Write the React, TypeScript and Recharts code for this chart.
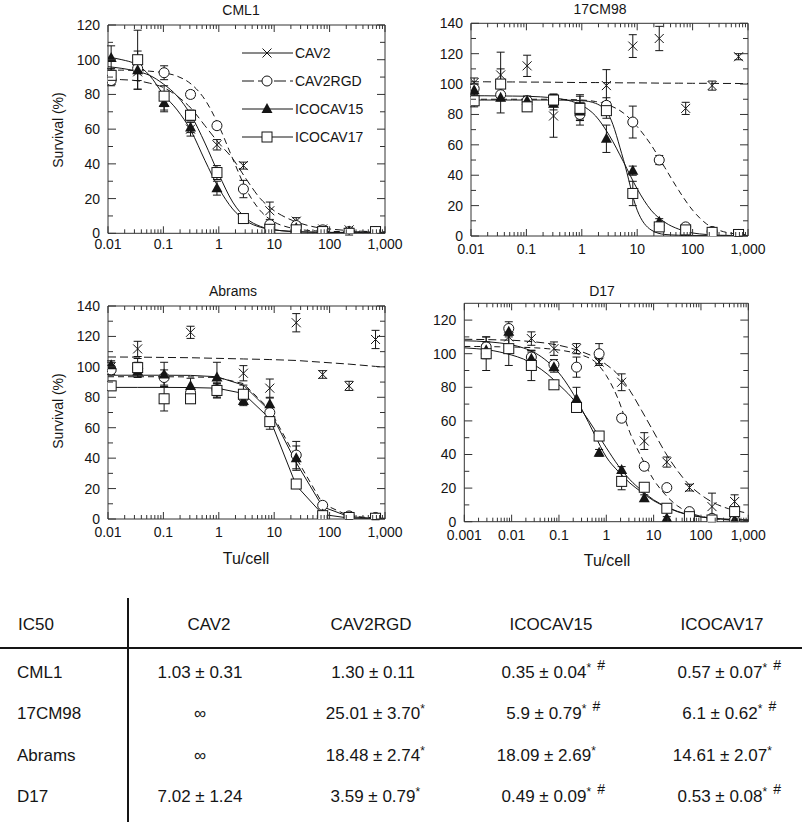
import React from 'react';
import { ComposedChart, Line, Scatter, ErrorBar, XAxis, YAxis, Legend, ReferenceLine } from 'recharts';

const FONT = '"Liberation Sans", Arial, Helvetica, sans-serif';
const INK = '#151515';
const FRAME = '#333';

const NAMES = ['CAV2', 'CAV2RGD', 'ICOCAV15', 'ICOCAV17'];
const FIT_DASH = ['8 4', '6 4', undefined, undefined];

// 3-fold dilution series, Tu/cell
const DOSES = [0.0114, 0.0343, 0.103, 0.309, 0.926, 2.78, 8.33, 25, 75, 225, 675];
const DOSES_D17 = [0.0029, 0.0087, 0.0261, 0.0783, 0.235, 0.705, 2.11, 6.34, 19, 57, 171, 514];

const FIT_X = [0.01, 0.0178, 0.0316, 0.0562, 0.1, 0.178, 0.316, 0.562, 1, 1.78, 3.16, 5.62, 10, 17.8, 31.6, 56.2, 100, 178, 316, 562, 1000];
const FIT_X_ABRAMS = [0.01, 0.0343, 0.103, 0.309, 0.926, 2.78, 8.33, 25, 75, 225, 675, 1000];
const FIT_X_D17 = [0.001, 0.00178, 0.00316, 0.00562, 0.01, 0.0178, 0.0316, 0.0562, 0.1, 0.178, 0.316, 0.562, 1, 1.78, 3.16, 5.62, 10, 17.8, 31.6, 56.2, 100, 178, 316, 562, 1000];

// ---- CML1
const CML1_CAV2 = [88, 93, 76, 60, 51, 39, 13, 7, 2.5, 2, 1];
const CML1_CAV2_ERR = [3, 5, 5, 4, 3, 2, 5, 2, 1, 1, 1];
const CML1_CAV2RGD = [88, 95, 92.5, 80, 62, 25.5, 5, 4.5, 2, 1, 1];
const CML1_CAV2RGD_ERR = [2, 3, 4, 2, 2, 5, 2, 2, 1, 1, 1];
const CML1_ICO15 = [101, 94, 75, 61, 26, 8, 2, 3, 1, 1, 0.5];
const CML1_ICO15_ERR = [7, 11, 5, 3, 4, 1, 1, 1, 1, 1, 0.5];
const CML1_ICO17 = [91, 100, 79, 68, 35, 8.5, 2.3, 2, 1, 0, 1];
const CML1_ICO17_ERR = [4, 17, 6, 3, 4, 1, 1, 1, 1, 1, 1];
const CML1_FIT_CAV2 = [89, 88.5, 88, 86.5, 84, 79, 72, 62, 52, 43, 31, 20, 13, 8.5, 5.5, 3.5, 2.5, 1.8, 1.3, 1, 0.8];
const CML1_FIT_CAV2RGD = [94, 94, 93.8, 93.4, 92.5, 90.5, 86, 77, 62, 43, 25, 13, 6.5, 3.5, 2, 1.4, 1.1, 1, 0.9, 0.8, 0.8];
const CML1_FIT_ICO15 = [101.5, 100, 97.5, 91, 80, 71, 59, 42, 26, 14, 7, 3.5, 2, 1.2, 0.8, 0.6, 0.5, 0.5, 0.5, 0.5, 0.5];
const CML1_FIT_ICO17 = [96, 95, 93.5, 91, 86, 79, 68, 52, 34, 18, 8.5, 4, 2, 1.2, 0.8, 0.6, 0.5, 0.5, 0.5, 0.5, 0.5];

// ---- 17CM98
const CM98_CAV2 = [101, 106, 112, 79, 85, 99, 125, 130, 84, 99, 118];
const CM98_CAV2_ERR = [3, 15, 7, 14, 8, 10.5, 7.5, 8, 4, 3, 2];
const CM98_CAV2RGD = [97, 93, 89, 89, 80, 86, 75, 50, 6, 3, 1];
const CM98_CAV2RGD_ERR = [3, 4, 3, 4, 7, 5, 10.5, 3, 2, 1, 1];
const CM98_ICO15 = [96, 91, 89, 87, 82, 64, 43, 9.4, 2, 2, 0.5];
const CM98_ICO15_ERR = [4, 10, 3, 4, 6, 9, 3, 2, 1, 1, 0.5];
const CM98_ICO17 = [89, 100, 85, 89.5, 84, 82.5, 28, 6, 4, 2.4, 1];
const CM98_ICO17_ERR = [4, 10, 3, 4, 8, 5, 8, 2, 1, 1, 1];
const CM98_FIT_CAV2 = [101.5, 101.5, 101.4, 101.4, 101.3, 101.3, 101.2, 101.1, 101, 101, 100.9, 100.8, 100.8, 100.7, 100.6, 100.6, 100.5, 100.5, 100.4, 100.4, 100.3];
const CM98_FIT_CAV2RGD = [90, 90, 90, 90, 90, 90, 90, 89.8, 89.5, 88.5, 86, 81, 72, 60, 45, 30, 17, 8, 3.5, 1.5, 0.8];
const CM98_FIT_ICO15 = [92.3, 92.3, 92.2, 92.1, 92, 91.6, 90.8, 89.3, 86, 79, 66, 49, 31, 17, 9, 4.5, 2, 1, 0.5, 0.3, 0.2];
const CM98_FIT_ICO17 = [89.5, 89.5, 89.5, 89.5, 89.5, 89.5, 89.5, 89.4, 89.1, 87.3, 78.7, 50.5, 17, 4, 1, 0.5, 0.3, 0.3, 0.3, 0.3, 0.3];

// ---- Abrams
const ABR_CAV2 = [100, 111.8, 79, 122.7, 84, 95.8, 86, 129, 95, 87.5, 118];
const ABR_CAV2_ERR = [3, 5, 8, 4, 4, 5, 6, 6, 2.5, 3, 6];
const ABR_CAV2RGD = [98, 99, 93, 83, 85, 80, 70, 42, 9, 2, 1];
const ABR_CAV2RGD_ERR = [3, 4, 5, 3, 4, 4, 4, 9, 2, 1, 1];
const ABR_ICO15 = [101, 97, 95, 87.5, 93, 77.5, 75.5, 40, 3, 1, 0.5];
const ABR_ICO15_ERR = [3, 4, 8, 5, 10, 3, 4, 8, 1, 1, 0.5];
const ABR_ICO17 = [87.5, 99.5, 79, 79, 84.5, 82, 64, 23, 2.2, 1, 0.5];
const ABR_ICO17_ERR = [3, 6, 3, 3, 5, 6, 5, 3, 1, 1, 1];
const ABR_FIT_CAV2 = [106.5, 106.4, 106.2, 106, 105.6, 105.2, 104.8, 104.2, 103, 101.8, 100.3, 100];
const ABR_FIT_CAV2RGD = [93.5, 93.5, 93.5, 93.4, 93, 89, 72, 40, 10, 2, 0.6, 0.5];
const ABR_FIT_ICO15 = [94.5, 94.5, 94.5, 94.4, 93.5, 88, 71, 37, 8, 1.5, 0.4, 0.3];
const ABR_FIT_ICO17 = [86.5, 86.5, 86.5, 86.4, 86, 82.5, 66, 22, 3, 0.6, 0.2, 0.2];

// ---- D17
const D17_CAV2 = [103, 110, 109, 103, 103, 95, 83, 48, 35.5, 20.3, 9, 12];
const D17_CAV2_ERR = [3, 5, 4, 4, 3, 2, 5, 5, 3, 2, 8, 4];
const D17_CAV2RGD = [104, 115, 98, 93.5, 92, 100, 61.6, 33, 20.3, 6, 2, 1];
const D17_CAV2RGD_ERR = [6, 4, 4, 3, 6, 6, 2, 2, 1.5, 1, 1, 1];
const D17_ICO15 = [102, 113, 97, 92, 73, 41, 30.8, 14, 2, 1, 0.5, 1];
const D17_ICO15_ERR = [5, 3, 4, 3, 7, 2, 2, 2, 1, 0.5, 0.5, 0.5];
const D17_ICO17 = [100, 103, 93, 81.5, 68, 51, 24, 20.5, 8, 3, 1, 6];
const D17_ICO17_ERR = [10, 10, 9, 2, 3, 2, 5, 2, 1, 1, 1, 3];
const D17_FIT_CAV2 = [108.6, 108.5, 108.4, 108.2, 108, 107.6, 107, 106.2, 105, 103.3, 101, 98, 93.5, 87.5, 78, 66, 53.5, 41, 30.5, 22, 16, 11.5, 8.5, 6.5, 5];
const D17_FIT_CAV2RGD = [104.3, 104.3, 104.2, 104.1, 104, 103.8, 103.5, 103, 102.2, 101, 99, 95.5, 87, 73, 53, 38, 25, 16, 9.5, 5.5, 3.2, 1.9, 1.2, 0.8, 0.5];
const D17_FIT_ICO15 = [107.7, 107.5, 107.1, 106.4, 105.3, 103.4, 100.4, 95.5, 88.5, 78.5, 66, 52, 38.5, 30, 23, 17.5, 12.5, 9, 6, 4, 2.8, 2, 1.5, 1.2, 1];
const D17_FIT_ICO17 = [103.5, 103, 102.3, 101, 99.2, 96.8, 93, 88, 81.5, 74.5, 65.5, 55, 44, 33.5, 25, 18.5, 13, 9.2, 6.2, 4.2, 2.9, 2, 1.5, 1.2, 1];

// ---- axis ticks
const X_MAJOR = [0.01, 0.1, 1, 10, 100, 1000];
const X_MAJOR_D17 = [0.001, 0.01, 0.1, 1, 10, 100, 1000];
const Y_MAJOR_120 = [0, 20, 40, 60, 80, 100, 120];
const Y_MAJOR_140 = [0, 20, 40, 60, 80, 100, 120, 140];
const Y_MINOR_120 = [10, 30, 50, 70, 90, 110];
const Y_MINOR_140 = [10, 30, 50, 70, 90, 110, 130];

// ---- IC50 table
const TABLE_HEAD = ['CAV2', 'CAV2RGD', 'ICOCAV15', 'ICOCAV17'];
const TABLE_ROWS = ['CML1', '17CM98', 'Abrams', 'D17'];
const IC50_TEXT = [
  ['1.03 ± 0.31', '1.30 ± 0.11', '0.35 ± 0.04', '0.57 ± 0.07'],
  ['∞', '25.01 ± 3.70', '5.9 ± 0.79', '6.1 ± 0.62'],
  ['∞', '18.48 ± 2.74', '18.09 ± 2.69', '14.61 ± 2.07'],
  ['7.02 ± 1.24', '3.59 ± 0.79', '0.49 ± 0.09', '0.53 ± 0.08'],
];
const IC50_MARKS = [
  ['', '', '*#', '*#'],
  ['', '*', '*#', '*#'],
  ['', '*', '*', '*'],
  ['', '*', '*#', '*#'],
];

const minorTicks = (lo: number, hi: number) => {
  const out: number[] = [];
  for (let d = lo; d < hi * 0.99; d *= 10) {
    for (let k = 2; k < 10; k++) out.push(Number((d * k).toPrecision(3)));
  }
  return out;
};

const fmtX = (v: number) => (v >= 1000 ? v.toLocaleString('en-US') : String(v));

// markers
const XMark = (p: any) => {
  const { cx, cy } = p;
  if (cx == null || cy == null) return null;
  const s = 4.5;
  return <path d={`M${cx - s},${cy - s}L${cx + s},${cy + s}M${cx - s},${cy + s}L${cx + s},${cy - s}`} stroke={INK} strokeWidth={1} fill="none" />;
};
const OpenCircle = (p: any) => {
  const { cx, cy } = p;
  if (cx == null || cy == null) return null;
  return <circle cx={cx} cy={cy} r={5} fill="#fff" stroke={INK} strokeWidth={1} />;
};
const FilledTri = (p: any) => {
  const { cx, cy } = p;
  if (cx == null || cy == null) return null;
  return <path d={`M${cx},${cy - 6}L${cx + 5.5},${cy + 4}L${cx - 5.5},${cy + 4}Z`} fill={INK} />;
};
const OpenSquare = (p: any) => {
  const { cx, cy } = p;
  if (cx == null || cy == null) return null;
  return <rect x={cx - 5} y={cy - 5} width={10} height={10} fill="#fff" stroke={INK} strokeWidth={1} />;
};
const SHAPES = [XMark, OpenCircle, FilledTri, OpenSquare];

const LegendBox = () => {
  const rows = [15, 43, 71, 99];
  return (
    <svg width={170} height={115} style={{ fontFamily: FONT }}>
      {NAMES.map((n, i) => {
        const y = rows[i];
        const Shape = SHAPES[i];
        return (
          <g key={n}>
            <line x1={7} x2={58} y1={y} y2={y} stroke={INK} strokeWidth={1} strokeDasharray={i === 1 ? '12 4' : undefined} />
            <Shape cx={32} cy={y} />
            <text x={60} y={y + 5} fontSize={14} fill={INK}>{n}</text>
          </g>
        );
      })}
    </svg>
  );
};

// bottom-axis tick: label for decades, inner tick marks at bottom and top of the box
const XTick = (props: any) => {
  const { x, y, payload, majors, gap, plotH } = props;
  const v = payload.value;
  const major = majors.includes(v);
  const axisY = y - gap;
  const len = major ? 7 : 4;
  return (
    <g>
      <line x1={x} x2={x} y1={axisY} y2={axisY - len} stroke={FRAME} strokeWidth={1} />
      <line x1={x} x2={x} y1={axisY - plotH} y2={axisY - plotH + len} stroke={FRAME} strokeWidth={1} />
      {major && (
        <text x={x} y={y} dy="0.71em" textAnchor="middle" fontSize={14} fill={INK}>{fmtX(v)}</text>
      )}
    </g>
  );
};

// left-axis tick: label every 20, inner tick marks on left and right of the box
const YTick = (props: any) => {
  const { x, y, payload, majors, plotW } = props;
  const v = payload.value;
  const major = majors.includes(v);
  const axisX = x + 8;
  const len = major ? 8 : 5;
  return (
    <g>
      <line x1={axisX} x2={axisX + len} y1={y} y2={y} stroke={FRAME} strokeWidth={1} />
      <line x1={axisX + plotW} x2={axisX + plotW - len} y1={y} y2={y} stroke={FRAME} strokeWidth={1} />
      {major && (
        <text x={x} y={y} dy="0.355em" textAnchor="end" fontSize={14} fill={INK}>{v}</text>
      )}
    </g>
  );
};

type PanelProps = {
  left: number; top: number; width: number; height: number;
  margin: { top: number; right: number; bottom: number; left: number };
  xDomain: [number, number]; xMajor: number[];
  yDomain: [number, number]; yMajor: number[]; yMinor: number[];
  doses: number[]; fitX: number[];
  ys: number[][]; errs: number[][]; fits: number[][];
  fitType: 'monotone' | 'linear';
  labelGap: number;
  legend?: boolean;
};

const Y_AXIS_W = 40;
const X_AXIS_H = 30;

const Panel = (p: PanelProps) => {
  const xTicks = [...p.xMajor, ...minorTicks(p.xDomain[0], p.xDomain[1])].sort((a, b) => a - b);
  const yTicks = [...p.yMajor, ...p.yMinor].sort((a, b) => a - b);
  const plotW = p.width - p.margin.left - p.margin.right - Y_AXIS_W;
  const plotH = p.height - p.margin.top - p.margin.bottom - X_AXIS_H;
  const frame = { stroke: FRAME, strokeWidth: 1 };
  return (
    <div style={{ position: 'absolute', left: p.left, top: p.top, fontFamily: FONT }}>
      <ComposedChart width={p.width} height={p.height} margin={p.margin}>
        <XAxis xAxisId="m" dataKey="x" type="number" scale="log" domain={p.xDomain} allowDataOverflow
          ticks={xTicks} interval={0} tickLine={false} tickSize={p.labelGap - 2} tickMargin={2}
          height={X_AXIS_H} axisLine={frame}
          tick={<XTick majors={p.xMajor} gap={p.labelGap} plotH={plotH} />} />
        <YAxis yAxisId="m" dataKey="y" type="number" domain={p.yDomain} allowDataOverflow
          ticks={yTicks} interval={0} tickLine={false} width={Y_AXIS_W} tickSize={6} tickMargin={2}
          axisLine={frame}
          tick={<YTick majors={p.yMajor} plotW={plotW} />} />

        <ReferenceLine xAxisId="m" yAxisId="m" y={p.yDomain[1]} stroke={FRAME} strokeWidth={1} />
        <ReferenceLine xAxisId="m" yAxisId="m" x={p.xDomain[1]} stroke={FRAME} strokeWidth={1} />

        {p.fits.map((f, i) => (
          <Line key={`fit-${i}`} xAxisId="m" yAxisId="m" data={p.fitX.map((x, j) => ({ x, y: f[j] }))}
            dataKey="y" type={p.fitType} dot={false} activeDot={false} stroke={INK} strokeWidth={1}
            strokeDasharray={FIT_DASH[i]} isAnimationActive={false} />
        ))}
        {p.ys.map((ys, i) => (
          <Scatter key={`pts-${i}`} name={NAMES[i]} xAxisId="m" yAxisId="m"
            data={p.doses.map((x, j) => ({ x, y: ys[j], e: p.errs[i][j] }))}
            shape={SHAPES[i]} isAnimationActive={false}>
            <ErrorBar dataKey="e" direction="y" width={4} stroke={INK} strokeWidth={1} isAnimationActive={false} />
          </Scatter>
        ))}
        {p.legend && (
          <Legend verticalAlign="middle" align="center" layout="horizontal" content={<LegendBox />}
            wrapperStyle={{ left: 235, top: 38, width: 170, height: 115 }} />
        )}
      </ComposedChart>
    </div>
  );
};

const Label = ({ x, y, size, children, rotate }: any) => (
  <div style={{
    position: 'absolute', left: x, top: y, fontSize: size, lineHeight: 1, whiteSpace: 'nowrap', color: INK,
    transform: rotate ? 'translate(-50%, -50%) rotate(-90deg)' : 'translate(-50%, -50%)',
  }}>{children}</div>
);

const Marks = ({ m }: { m: string }) => {
  if (!m) return null;
  return (
    <span style={{ position: 'absolute', left: '100%', top: 0, whiteSpace: 'nowrap' }}>
      <span style={{ fontSize: 12, position: 'relative', top: -6 }}>*</span>
      {m.includes('#') && <span style={{ fontSize: 14, position: 'relative', top: -8, marginLeft: 6 }}>#</span>}
    </span>
  );
};

const HEAD_X = [209, 371, 551, 722];
const VAL_X = [200, 373, 544, 720];
const ROW_Y = [673, 714, 756, 797];

const Table = () => (
  <div style={{ position: 'absolute', left: 0, top: 0, width: 802, height: 822, fontSize: 17, color: INK }}>
    <div style={{ position: 'absolute', left: 127, top: 598, width: 1.5, height: 224, background: INK }} />
    <div style={{ position: 'absolute', left: 0, top: 647, width: 802, height: 1.5, background: INK }} />
    <div style={{ position: 'absolute', left: 18, top: 615, lineHeight: '20px' }}>IC50</div>
    {TABLE_HEAD.map((h, i) => (
      <div key={h} style={{ position: 'absolute', left: HEAD_X[i], top: 615, lineHeight: '20px', transform: 'translateX(-50%)', whiteSpace: 'nowrap' }}>{h}</div>
    ))}
    {TABLE_ROWS.map((r, ri) => (
      <React.Fragment key={r}>
        <div style={{ position: 'absolute', left: 17, top: ROW_Y[ri] - 10, lineHeight: '20px' }}>{r}</div>
        {IC50_TEXT[ri].map((t, ci) => (
          <div key={ci} style={{ position: 'absolute', left: VAL_X[ci], top: ROW_Y[ri] - 10, lineHeight: '20px', transform: 'translateX(-50%)', whiteSpace: 'nowrap' }}>
            <span style={{ position: 'relative' }}>
              {t}
              <Marks m={IC50_MARKS[ri][ci]} />
            </span>
          </div>
        ))}
      </React.Fragment>
    ))}
  </div>
);

export default function App() {
  return (
    <div style={{ position: 'absolute', left: 0, top: 0, width: 802, height: 822, background: '#fff', fontFamily: FONT, overflow: 'hidden' }}>
      <Panel left={0} top={0} width={420} height={280}
        margin={{ top: 25, right: 35, bottom: 16.7, left: 68 }}
        xDomain={[0.01, 1000]} xMajor={X_MAJOR} yDomain={[0, 120]} yMajor={Y_MAJOR_120} yMinor={Y_MINOR_120}
        doses={DOSES} fitX={FIT_X} fitType="monotone" labelGap={5.5} legend
        ys={[CML1_CAV2, CML1_CAV2RGD, CML1_ICO15, CML1_ICO17]}
        errs={[CML1_CAV2_ERR, CML1_CAV2RGD_ERR, CML1_ICO15_ERR, CML1_ICO17_ERR]}
        fits={[CML1_FIT_CAV2, CML1_FIT_CAV2RGD, CML1_FIT_ICO15, CML1_FIT_ICO17]} />
      <Panel left={400} top={0} width={402} height={280}
        margin={{ top: 23.3, right: 54, bottom: 14, left: 31 }}
        xDomain={[0.01, 1000]} xMajor={X_MAJOR} yDomain={[0, 140]} yMajor={Y_MAJOR_140} yMinor={Y_MINOR_140}
        doses={DOSES} fitX={FIT_X} fitType="monotone" labelGap={8.5}
        ys={[CM98_CAV2, CM98_CAV2RGD, CM98_ICO15, CM98_ICO17]}
        errs={[CM98_CAV2_ERR, CM98_CAV2RGD_ERR, CM98_ICO15_ERR, CM98_ICO17_ERR]}
        fits={[CM98_FIT_CAV2, CM98_FIT_CAV2RGD, CM98_FIT_ICO15, CM98_FIT_ICO17]} />
      <Panel left={0} top={280} width={420} height={300}
        margin={{ top: 26, right: 35, bottom: 31, left: 68 }}
        xDomain={[0.01, 1000]} xMajor={X_MAJOR} yDomain={[0, 140]} yMajor={Y_MAJOR_140} yMinor={Y_MINOR_140}
        doses={DOSES} fitX={FIT_X_ABRAMS} fitType="linear" labelGap={8}
        ys={[ABR_CAV2, ABR_CAV2RGD, ABR_ICO15, ABR_ICO17]}
        errs={[ABR_CAV2_ERR, ABR_CAV2RGD_ERR, ABR_ICO15_ERR, ABR_ICO17_ERR]}
        fits={[ABR_FIT_CAV2, ABR_FIT_CAV2RGD, ABR_FIT_ICO15, ABR_FIT_ICO17]} />
      <Panel left={400} top={280} width={402} height={300}
        margin={{ top: 23.3, right: 53.7, bottom: 28.3, left: 24.3 }}
        xDomain={[0.001, 1000]} xMajor={X_MAJOR_D17} yDomain={[0, 130]} yMajor={Y_MAJOR_120} yMinor={Y_MINOR_120}
        doses={DOSES_D17} fitX={FIT_X_D17} fitType="monotone" labelGap={8.3}
        ys={[D17_CAV2, D17_CAV2RGD, D17_ICO15, D17_ICO17]}
        errs={[D17_CAV2_ERR, D17_CAV2RGD_ERR, D17_ICO15_ERR, D17_ICO17_ERR]}
        fits={[D17_FIT_CAV2, D17_FIT_CAV2RGD, D17_FIT_ICO15, D17_FIT_ICO17]} />

      <Label x={241} y={10} size={14}>CML1</Label>
      <Label x={600} y={9} size={14}>17CM98</Label>
      <Label x={233} y={291} size={14}>Abrams</Label>
      <Label x={602} y={290.5} size={14}>D17</Label>
      <Label x={58} y={130} size={14} rotate>Survival (%)</Label>
      <Label x={58} y={411} size={14} rotate>Survival (%)</Label>
      <Label x={246} y={559} size={16}>Tu/cell</Label>
      <Label x={607} y={561} size={16}>Tu/cell</Label>

      <Table />
    </div>
  );
}
